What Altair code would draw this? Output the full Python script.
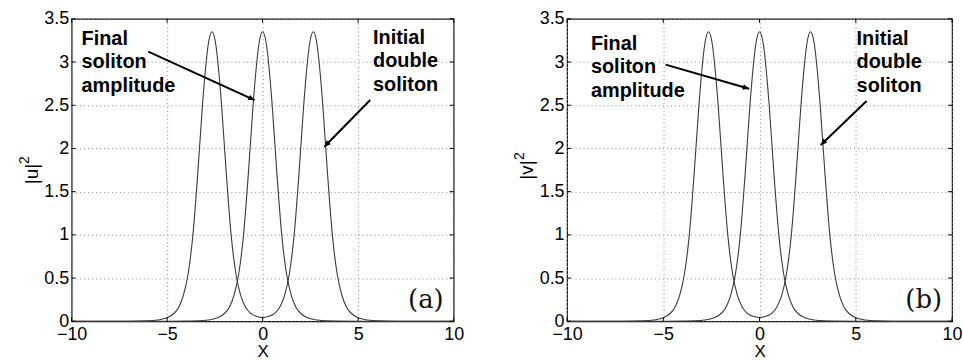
import math
import altair as alt
import pandas as pd

# Profiles |u|^2 and |v|^2 along X
x_double = [-10, -7, -6, -5.5, -5, -4.65, -4.4, -4.15, -3.9, -3.65, -3.4, -3.15, -3.0, -2.85,
            -2.65, -2.45, -2.3, -2.15, -1.9, -1.65, -1.4, -1.15, -0.9, -0.65, -0.3, 0,
            0.3, 0.65, 0.9, 1.15, 1.4, 1.65, 1.9, 2.15, 2.3, 2.45, 2.65,
            2.85, 3.0, 3.15, 3.4, 3.65, 3.9, 4.15, 4.4, 4.65, 5, 5.5, 6, 7, 10]
y_double = [0, 0.001, 0.005, 0.015, 0.04, 0.09, 0.16, 0.30, 0.55, 1.0, 1.7, 2.5, 2.9, 3.2,
            3.35, 3.2, 2.9, 2.5, 1.7, 1.0, 0.55, 0.30, 0.165, 0.095, 0.055, 0.045,
            0.055, 0.095, 0.165, 0.30, 0.55, 1.0, 1.7, 2.5, 2.9, 3.2, 3.35,
            3.2, 2.9, 2.5, 1.7, 1.0, 0.55, 0.30, 0.16, 0.09, 0.04, 0.015, 0.005, 0.001, 0]

x_final = [-10, -5, -4, -3.35, -2.85, -2.35, -2, -1.75, -1.5, -1.25, -1, -0.75, -0.5, -0.35, -0.2,
           0, 0.2, 0.35, 0.5, 0.75, 1, 1.25, 1.5, 1.75, 2, 2.35, 2.85, 3.35, 4, 5, 10]
y_final = [0, 0.0, 0.002, 0.005, 0.015, 0.04, 0.09, 0.16, 0.30, 0.55, 1.0, 1.7, 2.5, 2.9, 3.2,
           3.35, 3.2, 2.9, 2.5, 1.7, 1.0, 0.55, 0.30, 0.16, 0.09, 0.04, 0.015, 0.005, 0.002, 0.0, 0]

x_ticks = [-10, -5, 0, 5, 10]
y_ticks = [0, 0.5, 1, 1.5, 2, 2.5, 3, 3.5]

# Annotation arrows per panel: (tail x, tail y, head x, head y)
arrows_a = [(-5.99, 3.12, -0.42, 2.56), (5.63, 2.56, 3.23, 2.02)]
arrows_b = [(-4.88, 2.97, -0.54, 2.69), (5.56, 2.55, 3.18, 2.04)]

# Text blocks per panel: (x, y of first baseline, text)
notes_a = [(-9.48, 3.2, "Final\nsoliton\namplitude"), (5.78, 3.21, "Initial\ndouble\nsoliton")]
notes_b = [(-8.76, 3.14, "Final\nsoliton\namplitude"), (5.04, 3.2, "Initial\ndouble\nsoliton")]

SANS = "Liberation Sans"
W, H = 384, 304
X_DOM = [-10, 10]
Y_DOM = [0, 3.5]


def panel(yvar, tag, arrows, notes, width, title_mid):
    curves = pd.concat([
        pd.DataFrame({"x": x_double, "y": y_double, "curve": "double"}),
        pd.DataFrame({"x": x_final, "y": y_final, "curve": "final"}),
    ])
    xs = alt.Scale(domain=X_DOM, nice=False, zero=False)
    ys = alt.Scale(domain=Y_DOM, nice=False)

    lines = alt.Chart(curves).mark_line(
        color="#3a3a3a", strokeWidth=1.1, interpolate="monotone"
    ).encode(
        x=alt.X("x:Q", scale=xs, axis=alt.Axis(
            values=x_ticks, format="~r", title="X", titleFontSize=17,
            titleFontWeight="normal", titleFont=SANS, titlePadding=0, labelPadding=4)),
        y=alt.Y("y:Q", scale=ys, axis=alt.Axis(
            values=y_ticks, format="~r", title=None, labelPadding=3)),
        detail="curve:N",
    )

    # y-axis title with a raised exponent
    ytitle = alt.Chart(pd.DataFrame({"t": [f"|{yvar}|"]})).mark_text(
        angle=270, align="center", baseline="alphabetic", font=SANS, fontSize=19,
        color="black"
    ).encode(x=alt.value(-34), y=alt.value(title_mid), text="t:N")
    yexp = alt.Chart(pd.DataFrame({"t": ["2"]})).mark_text(
        angle=270, align="left", baseline="alphabetic", font=SANS, fontSize=14,
        color="black"
    ).encode(x=alt.value(-43), y=alt.value(title_mid - 10), text="t:N")

    # arrow shafts and heads
    px_x = width / (X_DOM[1] - X_DOM[0])
    px_y = H / (Y_DOM[1] - Y_DOM[0])
    arr = pd.DataFrame(arrows, columns=["x0", "y0", "x1", "y1"])
    arr["angle"] = [
        math.degrees(math.atan2((r.x1 - r.x0) * px_x, (r.y1 - r.y0) * px_y)) % 360
        for r in arr.itertuples()
    ]
    shafts = alt.Chart(arr).mark_rule(color="black", strokeWidth=2).encode(
        x="x0:Q", y="y0:Q", x2="x1:Q", y2="y1:Q")
    heads = alt.Chart(arr).mark_point(
        shape="M0,0L-0.45,1L0.45,1Z", filled=True, color="black", size=160, opacity=1
    ).encode(x="x1:Q", y="y1:Q", angle=alt.Angle("angle:Q", scale=None))

    nt = pd.DataFrame(notes, columns=["x", "y", "label"])
    texts = alt.Chart(nt).mark_text(
        align="left", baseline="alphabetic", font=SANS, fontSize=20,
        fontWeight="bold", lineHeight=23.5, lineBreak="\n", color="black"
    ).encode(x="x:Q", y="y:Q", text="label:N")

    lab = alt.Chart(pd.DataFrame({"x": [9.48], "y": [0.15], "t": [tag]})).mark_text(
        align="right", baseline="alphabetic", font="DejaVu Serif", fontSize=26, color="#111"
    ).encode(x="x:Q", y="y:Q", text="t:N")

    # inward tick marks on all four sides
    xt = pd.DataFrame({"v": x_ticks})
    yt = pd.DataFrame({"v": y_ticks})
    tk = dict(color="black", strokeWidth=1)
    ticks = [
        alt.Chart(xt).mark_rule(**tk).encode(x="v:Q", y=alt.value(H), y2=alt.value(H - 4)),
        alt.Chart(xt).mark_rule(**tk).encode(x="v:Q", y=alt.value(0), y2=alt.value(4)),
        alt.Chart(yt).mark_rule(**tk).encode(y="v:Q", x=alt.value(0), x2=alt.value(4)),
        alt.Chart(yt).mark_rule(**tk).encode(y="v:Q", x=alt.value(width - 4), x2=alt.value(width)),
    ]

    return alt.layer(lines, *ticks, shafts, heads, texts, lab, ytitle, yexp).properties(
        width=width, height=H)


left = panel("u", "(a)", arrows_a, notes_a, W, 156)
right = panel("v", "(b)", arrows_b, notes_b, 387, 152)

chart = alt.hconcat(left, right, spacing=114, bounds="flush").properties(
    padding={"left": 17, "top": 8, "right": 0, "bottom": 0},
    background="white",
).configure_view(
    stroke="#111", strokeWidth=1.2
).configure_axis(
    labelFont=SANS, labelFontSize=18, labelColor="black", titleColor="black",
    ticks=False, domain=False, labelFlush=False, labelOverlap=False,
    grid=True, gridColor="#8a8a8a", gridDash=[1, 3], gridWidth=1, gridOpacity=1,
)

chart.save("out.html", embed_options={"renderer": "svg", "actions": False})
